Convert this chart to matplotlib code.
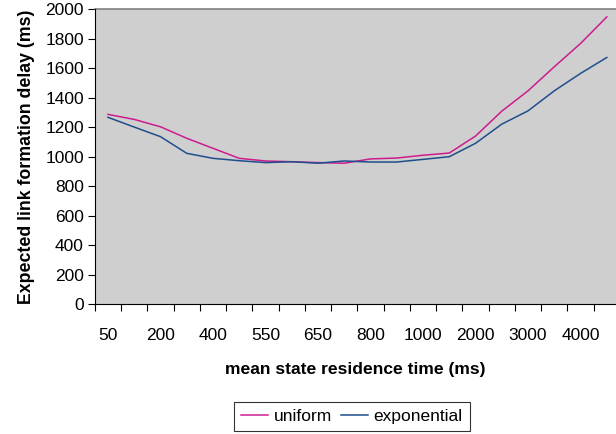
import matplotlib
matplotlib.use("Agg")
import matplotlib.pyplot as plt
import numpy as np

# x categories (mean state residence time, ms); only every other one is labelled
categories = ["50", "100", "200", "300", "400", "500", "550", "600", "650", "700",
              "800", "900", "1000", "1500", "2000", "2500", "3000", "3500", "4000", "4500"]
uniform = [1286, 1252, 1202, 1124, 1056, 988, 970, 965, 959, 955,
           984, 990, 1009, 1024, 1139, 1308, 1446, 1609, 1767, 1947]
exponential = [1266, 1200, 1135, 1022, 988, 972, 959, 965, 955, 970,
               963, 963, 981, 999, 1090, 1220, 1310, 1446, 1564, 1672]

plt.rcParams["font.family"] = ["Liberation Sans", "DejaVu Sans"]

fig = plt.figure(figsize=(6.16, 4.34), dpi=100)
ax = fig.add_axes([0.154, 0.2995, 0.846, 0.6795])
ax.set_facecolor("#CFCFCF")

x = np.arange(len(categories))
ax.plot(x, uniform, color="#CC1C8E", lw=1.1, label="uniform")
ax.plot(x, exponential, color="#1F4E8C", lw=1.1, label="exponential")

ax.set_xlim(-0.5, len(categories) - 0.65)
ax.set_ylim(0, 2000)
ax.set_yticks(range(0, 2001, 200))

# labels on every other category, tick marks between categories
ax.set_xticks(x[::2])
ax.set_xticklabels(categories[::2])
ax.set_xticks(np.arange(-0.5, len(categories) - 0.6, 1.0), minor=True)
ax.tick_params(axis="x", which="major", length=0, pad=17, labelsize=12.5)
ax.tick_params(axis="x", which="minor", length=5, width=0.8, color="black")
ax.tick_params(axis="y", length=5, width=0.8, labelsize=12.5, pad=3)

for s in ["top", "right"]:
    ax.spines[s].set_visible(False)
ax.spines["left"].set_color("black")
ax.spines["bottom"].set_color("black")
ax.axhline(2000, color="#808080", lw=1.2, clip_on=False)

ax.set_xlabel("mean state residence time (ms)", fontsize=12.6, fontweight="bold", labelpad=14)
ax.set_ylabel("Expected link formation delay (ms)", fontsize=12.8, fontweight="bold", labelpad=7)

leg = fig.legend(loc="center", bbox_to_anchor=(0.571, 0.040), ncol=2, fontsize=12.5,
                 frameon=True, fancybox=False, handlelength=1.55, handletextpad=0.35,
                 columnspacing=0.5, borderpad=0.4, borderaxespad=0)
leg.get_frame().set_edgecolor("black")
leg.get_frame().set_linewidth(0.8)

fig.savefig("out.png", dpi=100)
